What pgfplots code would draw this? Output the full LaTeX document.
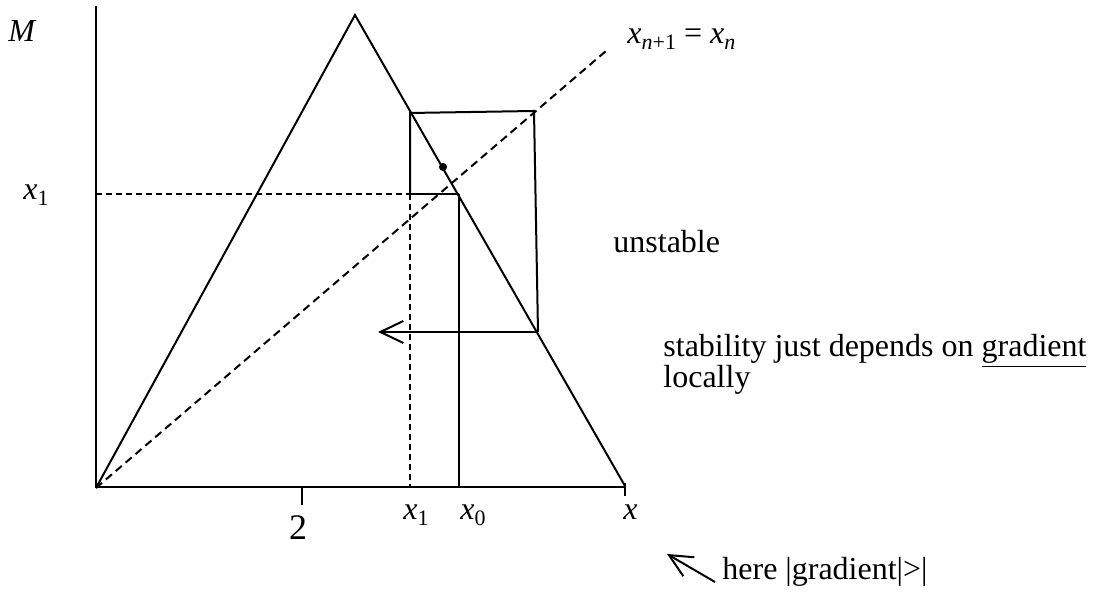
\documentclass[border=0pt]{standalone}
\usepackage{pgfplots}
\pgfplotsset{compat=1.18}
\usepackage{fontspec}
\setmainfont{Liberation Serif}
\usetikzlibrary{arrows.meta}
\newcommand\sub[1]{\raisebox{-0.4ex}{\fontsize{11pt}{11pt}\selectfont #1}}
\begin{document}
\begin{tikzpicture}
\begin{axis}[hide axis, scale only axis, width=549pt, height=296pt,
  xmin=0, xmax=1098, ymin=0, ymax=592, clip=false,
  l/.style={black, solid, line width=1pt, mark=none},
  d/.style={black, line width=1pt, mark=none},
  nodes={inner sep=0pt, font=\fontsize{16pt}{19pt}\selectfont}]
\addplot[draw=none, mark=none] coordinates {(0,0) (1098,592)};
% axes
\addplot[l] coordinates {(96,586) (96,104)};
\addplot[l] coordinates {(96,105) (625,105)};
\addplot[l] coordinates {(302,105) (302,87)};
\addplot[l] coordinates {(625,109) (625,96)};
% tent map
\addplot[l] coordinates {(96,104) (355,577) (625,106)};
% diagonal
\addplot[d, dash pattern=on 4pt off 2.5pt] coordinates {(96,104) (606,541)};
% cobweb
\addplot[d, dash pattern=on 3pt off 2pt] coordinates {(96,398) (410,398)};
\addplot[l] coordinates {(410,398) (459,398)};
\addplot[l] coordinates {(459,398) (459,105)};
\addplot[d, dash pattern=on 3pt off 2pt] coordinates {(410,398) (410,105)};
\addplot[l] coordinates {(410,398) (410,479) (534,481) (538,260)};
\addplot[l, -{Straight Barb[length=11.5pt,width=11pt]}] coordinates {(538,260) (378,260)};
\addplot[only marks, black, mark=*, mark size=1.8pt] coordinates {(443,425)};
\addplot[l, -{Straight Barb[length=11.5pt,width=11pt]}] coordinates {(715,10) (667,38)};
% labels
\node[anchor=base west] at (axis cs:8,550) {\textit{M}};
\node[anchor=base west] at (axis cs:23,392) {\textit{x}\sub{1}};
\node[anchor=base west] at (axis cs:627,548) {\textit{x}\sub{\textit{n}+1} = \textit{x}\sub{\textit{n}}};
\node[anchor=base, font=\fontsize{18pt}{20pt}\selectfont] at (axis cs:298,52) {2};
\node[anchor=base west] at (axis cs:403,72) {\textit{x}\sub{1}};
\node[anchor=base west] at (axis cs:460,72) {\textit{x}\sub{0}};
\node[anchor=base west] at (axis cs:623,72) {\textit{x}};
\node[anchor=base west] at (axis cs:613,339) {unstable};
\node[anchor=base west] at (axis cs:663,235) {stability just depends on \underline{gradient}};
\node[anchor=base west] at (axis cs:663,204) {locally};
\node[anchor=base west] at (axis cs:722,12) {here |gradient|>|};
\end{axis}
\end{tikzpicture}
\end{document}
